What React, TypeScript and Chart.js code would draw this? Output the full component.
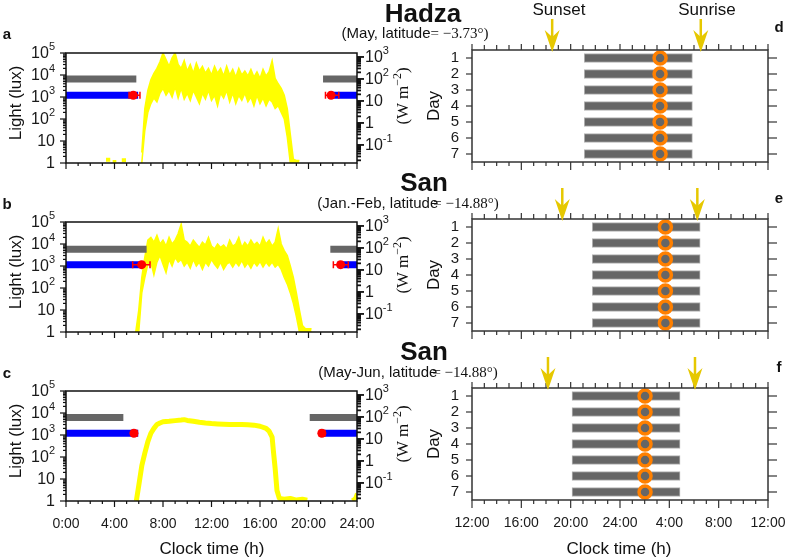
import React, { useEffect, useRef } from 'react';
import { Chart, registerables } from 'chart.js';
Chart.register(...registerables);

const FONT = '"Liberation Sans", Arial, Helvetica, sans-serif';
const SERIF = '"Liberation Serif", "Times New Roman", serif';
Chart.defaults.font.family = FONT;
Chart.defaults.color = '#1a1a1a';

// ---------------- axis ticks / labels ----------------
const clockTicksLeft = [0, 4, 8, 12, 16, 20, 24];
const clockLabelsLeft = ['0:00', '4:00', '8:00', '12:00', '16:00', '20:00', '24:00'];
const clockTicksRight = [12, 16, 20, 24, 28, 32, 36];
const clockLabelsRight = ['12:00', '16:00', '20:00', '24:00', '4:00', '8:00', '12:00'];
const luxTicks = [1, 10, 100, 1000, 10000, 100000];
const luxTickLabels = [['1', ''], ['10', ''], ['10', '2'], ['10', '3'], ['10', '4'], ['10', '5']];
const irrTicks = [0.1, 1, 10, 100, 1000];
const irrTickLabels = [['10', '-1'], ['1', ''], ['10', ''], ['10', '2'], ['10', '3']];
const irrRange = [0.0151, 1514];
const days = [1, 2, 3, 4, 5, 6, 7];

// ---------------- a: Hadza light (lux) ----------------
const hoursA = [6.25, 6.5, 6.75, 7, 7.25, 7.5, 7.75, 8, 8.25, 8.5, 8.75, 9, 9.25, 9.5, 9.75, 10, 10.25, 10.5, 10.75, 11, 11.25, 11.5, 11.75, 12, 12.25, 12.5, 12.75, 13, 13.25, 13.5, 13.75, 14, 14.25, 14.5, 14.75, 15, 15.25, 15.5, 15.75, 16, 16.25, 16.5, 16.75, 17, 17.25, 17.5, 17.75, 18, 18.25, 18.5, 18.75, 19, 19.25];
const hiA = [3, 300, 2000, 6000, 12000, 20000, 40000, 100000, 50000, 25000, 60000, 100000, 30000, 20000, 45000, 15000, 30000, 12000, 35000, 15000, 25000, 12000, 20000, 10000, 25000, 12000, 20000, 9000, 25000, 10000, 18000, 8000, 20000, 10000, 15000, 9000, 18000, 8000, 14000, 7000, 18000, 9000, 14000, 45000, 7000, 4000, 2500, 1200, 300, 20, 1.5, 1.3, 1.3];
const loA = [1, 30, 200, 500, 900, 600, 1500, 2500, 1200, 2000, 1000, 3000, 900, 2500, 800, 1500, 700, 2000, 1000, 500, 1500, 800, 2000, 700, 1200, 400, 1500, 900, 2000, 600, 1500, 500, 1200, 700, 1500, 600, 1000, 400, 1200, 500, 900, 400, 800, 600, 300, 400, 200, 100, 15, 1, 1, 1, 1];
const nightA = [[3.3, 3.65, 1.4], [3.85, 4.15, 1.1], [4.6, 4.95, 1.35]];
const grayA = [[0, 5.8], [21.2, 24]];
const grayLuxA = 6600;
const blueA = [[0, 5.95], [21.7, 24]];
const blueLuxA = 1200;
const onsetA = [5.55, 5.2, 6.1];
const offsetA = [21.86, 21.4, 22.5];

// ---------------- b: San Jan-Feb light (lux) ----------------
const hoursB = [5.75, 6, 6.25, 6.5, 6.75, 7, 7.25, 7.5, 7.75, 8, 8.25, 8.5, 8.75, 9, 9.25, 9.5, 9.75, 10, 10.25, 10.5, 10.75, 11, 11.25, 11.5, 11.75, 12, 12.25, 12.5, 12.75, 13, 13.25, 13.5, 13.75, 14, 14.25, 14.5, 14.75, 15, 15.25, 15.5, 15.75, 16, 16.25, 16.5, 16.75, 17, 17.25, 17.5, 17.75, 18, 18.25, 18.5, 18.75, 19, 19.25, 19.5, 19.75, 20, 20.25];
const hiB = [1, 10, 300, 2500, 15000, 20000, 12000, 25000, 10000, 15000, 8000, 20000, 10000, 15000, 30000, 80000, 15000, 12000, 8000, 15000, 10000, 7000, 12000, 9000, 20000, 8000, 6000, 10000, 7000, 9000, 6000, 15000, 8000, 10000, 20000, 7000, 12000, 8000, 15000, 9000, 12000, 8000, 20000, 10000, 15000, 8000, 12000, 50000, 10000, 5000, 3000, 1000, 300, 60, 10, 2, 1.4, 1.4, 1.4];
const loB = [1, 1, 60, 300, 1200, 1500, 400, 1500, 3000, 1200, 500, 2000, 1000, 2500, 1500, 2000, 1000, 1500, 800, 2000, 1000, 1500, 700, 1500, 1000, 2000, 1200, 800, 1500, 700, 1200, 1500, 900, 1500, 1000, 1800, 900, 1400, 800, 1500, 1000, 1600, 900, 1500, 1000, 1500, 900, 1200, 700, 300, 150, 60, 20, 5, 1, 1, 1, 1, 1];
const grayB = [[0, 6.65], [21.8, 24]];
const grayLuxB = 5700;
const blueB = [[0, 6.24], [22.4, 24]];
const blueLuxB = 1150;
const onsetB = [6.24, 5.5, 6.93];
const offsetB = [22.65, 22.05, 23.28];

// ---------------- c: San May-Jun light (lux) ----------------
const hoursC = [5.8, 6, 6.25, 6.5, 6.75, 7, 7.25, 7.5, 7.75, 8, 8.5, 9, 9.5, 9.75, 10, 10.5, 11, 11.5, 12, 12.5, 13, 13.5, 14, 14.5, 15, 15.5, 16, 16.5, 16.75, 17, 17.1, 17.25, 17.4, 17.6, 18, 18.5, 19, 19.5, 19.9];
const luxC = [1, 5, 40, 150, 500, 1200, 2000, 3000, 3500, 4000, 4200, 4500, 4800, 5000, 4600, 4200, 3800, 3500, 3300, 3200, 3100, 3000, 3000, 3000, 2900, 2800, 2500, 2000, 1500, 800, 200, 30, 3, 1.3, 1.2, 1.3, 1.1, 1.2, 1.1];
const lateHoursC = [23.6, 23.85, 24];
const lateLuxC = [1.05, 1.3, 2.2];
const grayC = [[0, 4.73], [20.1, 24]];
const grayLuxC = 6300;
const blueC = [[0, 5.96], [20.9, 24]];
const blueLuxC = 1200;
const onsetC = [5.6, 5.45, 5.85];
const offsetC = [21.1, 20.9, 21.35];

// ---------------- d/e/f: sleep per day (clock hours, 24+ = next day) ----------------
const sleepOnD = [21.1, 21.1, 21.1, 21.1, 21.1, 21.1, 21.1];
const sleepOffD = [29.87, 29.87, 29.87, 29.87, 29.87, 29.87, 29.87];
const midD = [27.25, 27.25, 27.25, 27.25, 27.25, 27.25, 27.25];
const sunD = [18.5, 30.55];
const sleepOnE = [21.75, 21.75, 21.75, 21.75, 21.75, 21.75, 21.75];
const sleepOffE = [30.5, 30.5, 30.5, 30.5, 30.5, 30.5, 30.5];
const midE = [27.68, 27.68, 27.68, 27.68, 27.68, 27.68, 27.68];
const sunE = [19.32, 30.27];
const sleepOnF = [20.11, 20.11, 20.11, 20.11, 20.11, 20.11, 20.11];
const sleepOffF = [28.87, 28.87, 28.87, 28.87, 28.87, 28.87, 28.87];
const midF = [26.03, 26.03, 26.03, 26.03, 26.03, 26.03, 26.03];
const sunF = [18.16, 30.08];

// ---------------- helpers ----------------
const YELLOW = '#ffff00';
const ARROW = '#e6c800';

function minorLog(min: number, max: number) {
  const out: number[] = [];
  for (let e = -3; e <= 6; e++) {
    for (let m = 2; m <= 9; m++) {
      const v = m * Math.pow(10, e);
      if (v > min && v < max) out.push(v);
    }
  }
  return out;
}
function hourMinor(a: number, b: number, majors: number[]) {
  const out: number[] = [];
  for (let h = a; h <= b; h++) if (!majors.includes(h)) out.push(h);
  return out;
}
function segData(segs: number[][], lux: number) {
  const out: any[] = [];
  segs.forEach((s, i) => {
    if (i > 0) out.push({ x: (segs[i - 1][1] + s[0]) / 2, y: null });
    out.push({ x: s[0], y: lux }, { x: s[1], y: lux });
  });
  return out;
}
function pairs(xs: number[], ys: number[]) {
  return xs.map((x, i) => ({ x, y: ys[i] }));
}

const ticksPlugin = {
  id: 'customTicks',
  afterDraw(chart: any, _a: any, opts: any) {
    if (!opts || !opts.specs) return;
    const ctx = chart.ctx;
    const ca = chart.chartArea;
    ctx.save();
    for (const sp of opts.specs) {
      const sc = chart.scales[sp.scale];
      ctx.strokeStyle = sp.color || '#111';
      ctx.lineWidth = sp.width || 1;
      const one = (v: number, len: number) => {
        const p = sc.getPixelForValue(v);
        ctx.beginPath();
        if (sp.side === 'bottom') { ctx.moveTo(p, ca.bottom); ctx.lineTo(p, ca.bottom + len); }
        else if (sp.side === 'top') { ctx.moveTo(p, ca.top); ctx.lineTo(p, ca.top - len); }
        else if (sp.side === 'left') { ctx.moveTo(ca.left, p); ctx.lineTo(ca.left - len, p); }
        else { ctx.moveTo(ca.right, p); ctx.lineTo(ca.right + len, p); }
        ctx.stroke();
      };
      (sp.minor || []).forEach((v: number) => one(v, sp.minorLen));
      (sp.major || []).forEach((v: number) => one(v, sp.majorLen));
    }
    if (opts.frame) {
      ctx.strokeStyle = opts.frame.color;
      ctx.lineWidth = opts.frame.width;
      ctx.strokeRect(ca.left, ca.top, ca.right - ca.left, ca.bottom - ca.top);
    }
    ctx.restore();
  },
};

const logLabelPlugin = {
  id: 'logLabels',
  afterDraw(chart: any, _a: any, opts: any) {
    if (!opts || !opts.specs) return;
    const ctx = chart.ctx;
    const ca = chart.chartArea;
    ctx.save();
    ctx.fillStyle = '#1a1a1a';
    ctx.textBaseline = 'middle';
    ctx.textAlign = 'left';
    for (const sp of opts.specs) {
      const sc = chart.scales[sp.scale];
      sp.values.forEach((v: number, i: number) => {
        const [base, exp] = sp.labels[i];
        const y = sc.getPixelForValue(v);
        ctx.font = `16px ${FONT}`;
        const bw = ctx.measureText(base).width;
        ctx.font = `11px ${FONT}`;
        const ew = exp ? ctx.measureText(exp).width : 0;
        const x0 = sp.side === 'left' ? ca.left - sp.pad - bw - ew : ca.right + sp.pad;
        ctx.font = `16px ${FONT}`;
        ctx.fillText(base, x0, y + 1);
        if (exp) {
          ctx.font = `11px ${FONT}`;
          ctx.fillText(exp, x0 + bw, y - 6);
        }
      });
    }
    ctx.restore();
  },
};

const errPlugin = {
  id: 'errBars',
  afterDatasetsDraw(chart: any, _a: any, opts: any) {
    if (!opts || !opts.items) return;
    const ctx = chart.ctx;
    const xs = chart.scales.x;
    const ys = chart.scales.y;
    ctx.save();
    ctx.strokeStyle = '#ff0000';
    ctx.lineWidth = 1.5;
    for (const it of opts.items) {
      const y = ys.getPixelForValue(it.y);
      const x1 = xs.getPixelForValue(it.lo);
      const x2 = xs.getPixelForValue(it.hi);
      ctx.beginPath();
      ctx.moveTo(x1, y); ctx.lineTo(x2, y);
      ctx.moveTo(x1, y - 3.5); ctx.lineTo(x1, y + 3.5);
      ctx.moveTo(x2, y - 3.5); ctx.lineTo(x2, y + 3.5);
      ctx.stroke();
    }
    ctx.restore();
  },
};

const arrowPlugin = {
  id: 'sunArrows',
  afterDraw(chart: any, _a: any, opts: any) {
    if (!opts || !opts.values) return;
    const ctx = chart.ctx;
    const top = chart.chartArea.top;
    const xs = chart.scales.x;
    ctx.save();
    ctx.fillStyle = ARROW;
    ctx.strokeStyle = ARROW;
    for (const v of opts.values) {
      const px = xs.getPixelForValue(v);
      ctx.lineWidth = 2.5;
      ctx.beginPath();
      ctx.moveTo(px, top - 31);
      ctx.lineTo(px, top - 12);
      ctx.stroke();
      ctx.beginPath();
      ctx.moveTo(px, top + 2);
      ctx.lineTo(px - 7.5, top - 20);
      ctx.lineTo(px, top - 13);
      ctx.lineTo(px + 7.5, top - 20);
      ctx.closePath();
      ctx.fill();
    }
    ctx.restore();
  },
};

type LeftData = {
  hours: number[]; hi?: number[]; lo?: number[]; line?: number[];
  lateHours?: number[]; lateLux?: number[]; night?: number[][];
  gray: number[][]; grayLux: number; blue: number[][]; blueLux: number;
  onset: number[]; offset: number[];
};

function xFit(h: number) {
  return (s: any) => {
    s.height = h;
    s.paddingLeft = 0;
    s.paddingRight = 0;
  };
}

function leftConfig(d: LeftData, showX: boolean, bottomH: number) {
  const datasets: any[] = [];
  datasets.push({
    data: [{ x: d.onset[0], y: d.blueLux }, { x: d.offset[0], y: d.blueLux }],
    showLine: false, pointRadius: 4.5, pointBackgroundColor: '#ff0000', pointBorderWidth: 0, order: 0,
  });
  datasets.push({
    data: segData(d.blue, d.blueLux), borderColor: '#0000ff', borderWidth: 7, pointRadius: 0,
    borderCapStyle: 'butt', order: 1, clip: 0,
  });
  datasets.push({
    data: segData(d.gray, d.grayLux), borderColor: '#666666', borderWidth: 7, pointRadius: 0,
    borderCapStyle: 'butt', order: 2, clip: 0,
  });
  if (d.hi && d.lo) {
    datasets.push({
      data: pairs(d.hours, d.lo), borderColor: YELLOW, borderWidth: 1.5, pointRadius: 0, fill: false, order: 3, clip: 0,
    });
    datasets.push({
      data: pairs(d.hours, d.hi), borderColor: YELLOW, borderWidth: 1.5, pointRadius: 0, fill: '-1',
      backgroundColor: YELLOW, order: 3, clip: 0,
    });
  }
  if (d.line) {
    datasets.push({
      data: pairs(d.hours, d.line), borderColor: YELLOW, borderWidth: 5, pointRadius: 0, order: 3, clip: 0,
      borderJoinStyle: 'bevel',
    });
  }
  if (d.lateHours && d.lateLux) {
    datasets.push({
      data: pairs(d.lateHours, d.lateLux), borderColor: YELLOW, borderWidth: 4, pointRadius: 0, order: 3, clip: 0,
    });
  }
  if (d.night) {
    datasets.push({
      data: segData(d.night.map((s) => [s[0], s[1]]), 1).map((p: any, i: number) => p.y === null ? p : { x: p.x, y: d.night![Math.floor(i / 3)][2] }),
      borderColor: YELLOW, borderWidth: 4, pointRadius: 0, borderCapStyle: 'butt', order: 3, clip: 0,
    });
  }
  const majorsX = clockTicksLeft;
  return {
    type: 'line',
    data: { datasets },
    options: {
      animation: false, responsive: false, events: [],
      layout: { padding: { top: 12, left: 0, right: 0, bottom: 0 } },
      plugins: {
        legend: { display: false }, tooltip: { enabled: false },
        customTicks: {
          specs: [
            { scale: 'x', side: 'bottom', major: majorsX, minor: hourMinor(0, 24, majorsX), majorLen: 6, minorLen: 3, width: 1.2 },
            { scale: 'y', side: 'left', major: luxTicks, minor: minorLog(1, 1e5), majorLen: 6, minorLen: 3, width: 1.2 },
            { scale: 'y2', side: 'right', major: irrTicks, minor: minorLog(irrRange[0], irrRange[1]), majorLen: 7, minorLen: 4, width: 1.8 },
          ],
          frame: { color: '#111', width: 1.5 },
        },
        logLabels: {
          specs: [
            { scale: 'y', side: 'left', pad: 11, values: luxTicks, labels: luxTickLabels },
            { scale: 'y2', side: 'right', pad: 8, values: irrTicks, labels: irrTickLabels },
          ],
        },
        errBars: {
          items: [
            { y: d.blueLux, lo: d.onset[1], hi: d.onset[2] },
            { y: d.blueLux, lo: d.offset[1], hi: d.offset[2] },
          ],
        },
      },
      scales: {
        x: {
          type: 'linear', min: 0, max: 24, offset: false,
          grid: { display: false, drawTicks: false }, border: { display: false },
          afterBuildTicks: (s: any) => { s.ticks = clockTicksLeft.map((v) => ({ value: v })); },
          ticks: {
            display: showX, autoSkip: false, maxRotation: 0, padding: 15, font: { size: 14 }, color: '#1a1a1a',
            callback: (v: any) => clockLabelsLeft[clockTicksLeft.indexOf(Number(v))],
          },
          afterFit: xFit(bottomH),
        },
        y: {
          type: 'logarithmic', min: 1, max: 1e5, position: 'left',
          grid: { display: false, drawTicks: false }, border: { display: false },
          ticks: { display: false },
          afterFit: (s: any) => { s.width = 66; },
        },
        y2: {
          type: 'logarithmic', min: irrRange[0], max: irrRange[1], position: 'right',
          grid: { display: false, drawTicks: false }, border: { display: false },
          ticks: { display: false },
          afterFit: (s: any) => { s.width = 63; },
        },
      },
    },
    plugins: [ticksPlugin, logLabelPlugin, errPlugin],
  };
}

function rightConfig(on: number[], off: number[], mid: number[], sun: number[], showX: boolean, bottomH: number) {
  const majors = clockTicksRight;
  return {
    type: 'bar',
    data: {
      datasets: [
        {
          type: 'line', indexAxis: 'x', data: days.map((d, i) => ({ x: mid[i], y: d })), showLine: false,
          pointRadius: 6, pointBorderWidth: 3.5, pointBorderColor: '#ff8000', pointBackgroundColor: '#666666', order: 0,
        },
        {
          type: 'bar', indexAxis: 'y', data: days.map((d, i) => ({ x: [on[i], off[i]], y: d })),
          backgroundColor: '#666666', borderColor: '#b4b4b4', borderWidth: 1, borderSkipped: false, barThickness: 9, order: 1,
        },
      ],
    },
    options: {
      indexAxis: 'y', animation: false, responsive: false, events: [],
      layout: { padding: { top: 36, left: 0, right: 19, bottom: 0 } },
      plugins: {
        legend: { display: false }, tooltip: { enabled: false },
        customTicks: {
          specs: [
            { scale: 'x', side: 'top', major: majors, minor: hourMinor(12, 36, majors), majorLen: 6, minorLen: 5, width: 1.2, color: '#333' },
            { scale: 'x', side: 'bottom', major: majors, minor: hourMinor(12, 36, majors), majorLen: 8, minorLen: 4, width: 1.2, color: '#333' },
            { scale: 'y', side: 'left', major: days, minor: [], majorLen: 6, minorLen: 0, width: 1.2, color: '#333' },
            { scale: 'y', side: 'right', major: days, minor: [], majorLen: 9, minorLen: 0, width: 1.2, color: '#333' },
          ],
          frame: { color: '#333', width: 1.5 },
        },
        sunArrows: { values: sun },
      },
      scales: {
        x: {
          type: 'linear', min: 12, max: 36, offset: false, position: 'bottom',
          grid: { display: false, drawTicks: false }, border: { display: false },
          afterBuildTicks: (s: any) => { s.ticks = clockTicksRight.map((v) => ({ value: v })); },
          ticks: {
            display: showX, autoSkip: false, maxRotation: 0, padding: 15, font: { size: 14 }, color: '#1a1a1a',
            callback: (v: any) => clockLabelsRight[clockTicksRight.indexOf(Number(v))],
          },
          afterFit: xFit(bottomH),
        },
        y: {
          type: 'linear', min: 0.5, max: 7.5, reverse: true, offset: false, position: 'left',
          grid: { display: false, drawTicks: false }, border: { display: false },
          afterBuildTicks: (s: any) => { s.ticks = days.map((v) => ({ value: v })); },
          ticks: { autoSkip: false, padding: 13, font: { size: 15 }, color: '#1a1a1a', callback: (v: any) => String(v) },
          afterFit: (s: any) => { s.width = 92; s.paddingTop = 0; s.paddingBottom = 0; },
        },
      },
    },
    plugins: [ticksPlugin, arrowPlugin],
  };
}

function ChartBox({ left, top, width, height, make }: { left: number; top: number; width: number; height: number; make: () => any }) {
  const ref = useRef<HTMLCanvasElement>(null);
  useEffect(() => {
    const chart = new Chart(ref.current as HTMLCanvasElement, make());
    return () => chart.destroy();
  }, []);
  return <canvas ref={ref} width={width} height={height} style={{ position: 'absolute', left, top, width, height }} />;
}

function T({ x, y, size = 15, bold = false, rot = false, family = FONT, children }: any) {
  return (
    <div
      style={{
        position: 'absolute', left: x, top: y, transform: `translate(-50%, -50%)${rot ? ' rotate(-90deg)' : ''}`,
        fontSize: size, fontWeight: bold ? 700 : 400, fontFamily: family, whiteSpace: 'nowrap', lineHeight: 1, color: '#111',
      }}
    >
      {children}
    </div>
  );
}

const leftLayout = [
  { top: 53, h: 110, showX: false, bottomH: 12 },
  { top: 222, h: 110, showX: false, bottomH: 12 },
  { top: 391, h: 110, showX: true, bottomH: 45 },
];
const rightLayout = [
  { top: 50, h: 112, showX: false, bottomH: 12 },
  { top: 219, h: 112, showX: false, bottomH: 12 },
  { top: 388, h: 112, showX: true, bottomH: 45 },
];

const leftData: LeftData[] = [
  { hours: hoursA, hi: hiA, lo: loA, night: nightA, gray: grayA, grayLux: grayLuxA, blue: blueA, blueLux: blueLuxA, onset: onsetA, offset: offsetA },
  { hours: hoursB, hi: hiB, lo: loB, gray: grayB, grayLux: grayLuxB, blue: blueB, blueLux: blueLuxB, onset: onsetB, offset: offsetB },
  { hours: hoursC, line: luxC, lateHours: lateHoursC, lateLux: lateLuxC, gray: grayC, grayLux: grayLuxC, blue: blueC, blueLux: blueLuxC, onset: onsetC, offset: offsetC },
];
const rightData = [
  { on: sleepOnD, off: sleepOffD, mid: midD, sun: sunD },
  { on: sleepOnE, off: sleepOffE, mid: midE, sun: sunE },
  { on: sleepOnF, off: sleepOffF, mid: midF, sun: sunF },
];

export default function App() {
  const Wm = (
    <span style={{ fontFamily: SERIF }}>
      (W m<sup style={{ fontSize: '0.7em', verticalAlign: '0.55em', lineHeight: 0 }}>−2</sup>)
    </span>
  );
  return (
    <div style={{ position: 'absolute', left: 0, top: 0, width: 787, height: 557, background: '#fff', overflow: 'hidden', fontFamily: FONT }}>
      {leftLayout.map((L, i) => (
        <ChartBox key={'l' + i} left={0} top={L.top - 12} width={420} height={12 + L.h + L.bottomH}
          make={() => leftConfig(leftData[i], L.showX, L.bottomH)} />
      ))}
      {rightLayout.map((R, i) => (
        <ChartBox key={'r' + i} left={380} top={R.top - 36} width={407} height={36 + R.h + R.bottomH}
          make={() => rightConfig(rightData[i].on, rightData[i].off, rightData[i].mid, rightData[i].sun, R.showX, R.bottomH)} />
      ))}

      {leftLayout.map((L, i) => (
        <React.Fragment key={'lt' + i}>
          <T x={15} y={L.top + L.h / 2 - 5} size={17} rot>Light (lux)</T>
          <T x={402} y={L.top + L.h / 2 - 12} size={17} rot family={SERIF}>{Wm}</T>
        </React.Fragment>
      ))}
      {rightLayout.map((R, i) => (
        <T key={'rt' + i} x={433} y={R.top + R.h / 2} size={17} rot>Day</T>
      ))}

      <T x={423} y={13} size={26} bold>Hadza</T>
      <T x={415} y={33} size={15}>(May, latitude<span style={{ fontFamily: SERIF }}>= −3.73°)</span></T>
      <T x={424} y={182} size={26} bold>San</T>
      <T x={408} y={203} size={15}>(Jan.-Feb, latitude<span style={{ fontFamily: SERIF, marginLeft: -5 }}>= −14.88°)</span></T>
      <T x={424} y={351} size={26} bold>San</T>
      <T x={408} y={372} size={15}>(May-Jun, latitude<span style={{ fontFamily: SERIF, marginLeft: -5 }}>= −14.88°)</span></T>

      <T x={559} y={9} size={17}>Sunset</T>
      <T x={707} y={9} size={17}>Sunrise</T>

      <T x={7} y={33} size={15} bold>a</T>
      <T x={7} y={203} size={15} bold>b</T>
      <T x={7} y={372} size={15} bold>c</T>
      <T x={779} y={26} size={15} bold>d</T>
      <T x={779} y={197} size={15} bold>e</T>
      <T x={779} y={366} size={15} bold>f</T>

      <T x={212} y={548} size={17}>Clock time (h)</T>
      <T x={619} y={548} size={17}>Clock time (h)</T>
    </div>
  );
}
